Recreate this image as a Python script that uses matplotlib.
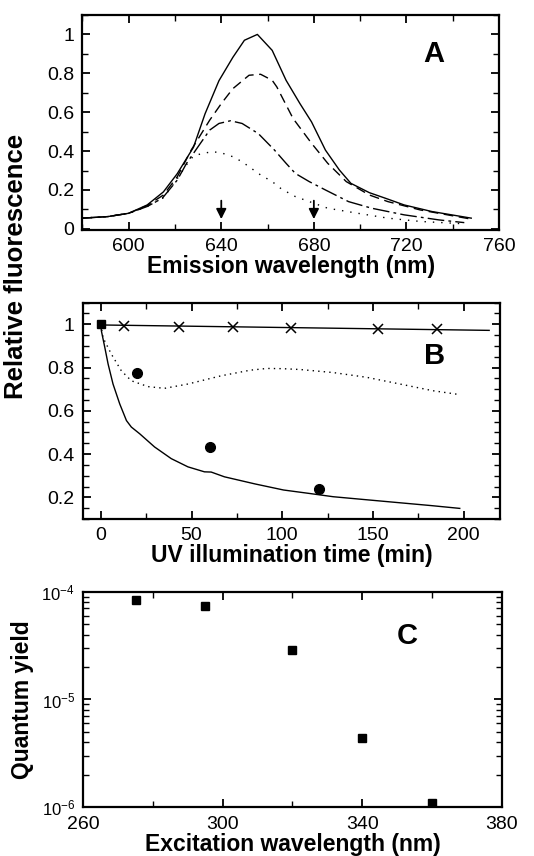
import matplotlib
matplotlib.use("Agg")
import matplotlib.pyplot as plt
from matplotlib.ticker import MultipleLocator, FuncFormatter, LogLocator

plt.rcParams['font.family'] = ['Liberation Sans', 'DejaVu Sans']
plt.rcParams['mathtext.fontset'] = 'custom'
plt.rcParams['mathtext.rm'] = 'Liberation Sans'

# ---- panel A: emission spectra ----
wl_solid = [580, 591, 600, 608, 615, 621, 628, 633, 639, 645, 650, 655.6, 662, 668, 674, 679,
            685, 691, 696, 704, 711, 719, 731, 748]
fl_solid = [0.055, 0.063, 0.080, 0.123, 0.19, 0.284, 0.42, 0.592, 0.762, 0.882, 0.97, 1.0, 0.918,
            0.764, 0.644, 0.55, 0.405, 0.303, 0.234, 0.186, 0.157, 0.123, 0.089, 0.055]

wl_dash = [580, 591, 600, 608, 615, 621, 627, 635, 640, 645, 652, 657, 662, 664, 671, 679, 686,
           694, 704, 712, 726, 748]
fl_dash = [0.055, 0.063, 0.080, 0.12, 0.174, 0.268, 0.405, 0.559, 0.644, 0.721, 0.79, 0.795,
           0.764, 0.73, 0.568, 0.44, 0.337, 0.243, 0.174, 0.14, 0.097, 0.05]

wl_dashdot = [580, 591, 600, 608, 614.5, 621, 625, 631, 635, 639, 644, 649, 656, 663, 668, 672,
              678, 685, 695, 705, 719, 734, 745]
fl_dashdot = [0.055, 0.063, 0.080, 0.115, 0.157, 0.251, 0.337, 0.44, 0.508, 0.542, 0.556, 0.542,
              0.49, 0.405, 0.337, 0.285, 0.243, 0.2, 0.14, 0.106, 0.072, 0.046, 0.032]

wl_dot = [580, 591, 600, 608, 615, 620, 625, 628, 631, 636, 640, 645, 649, 653, 657, 662, 666,
          672, 686, 699, 712, 726, 745]
fl_dot = [0.055, 0.063, 0.080, 0.115, 0.16, 0.24, 0.33, 0.375, 0.385, 0.397, 0.391, 0.371,
          0.345, 0.311, 0.277, 0.243, 0.205, 0.166, 0.106, 0.08, 0.055, 0.038, 0.026]

arrow_wl = [640, 680]

# ---- panel B: photobleaching ----
t_cross = [13, 43, 73, 105, 153, 185]
f_cross = [0.992, 0.986, 0.986, 0.985, 0.98, 0.977]
t_ref_line = [0, 214]
f_ref_line = [0.997, 0.972]

t_solid = [0, 0.3, 2.2, 4, 6.7, 10.4, 14.1, 16.8, 21.4, 29.6, 38.8, 48, 57.1, 60.8, 68.1,
           85, 100.7, 115, 128, 145, 164.8, 182, 197.8]
f_solid = [1.0, 0.969, 0.892, 0.816, 0.724, 0.632, 0.555, 0.525, 0.494, 0.433, 0.379, 0.341,
           0.318, 0.317, 0.295, 0.262, 0.234, 0.218, 0.203, 0.19, 0.175, 0.162, 0.149]

t_dot = [0, 1.2, 5.8, 11.3, 16.8, 26, 35.1, 48, 66.3, 82.4, 91.6, 100, 109.9, 128,
         146.5, 164.8, 183, 197.8]
f_dot = [1.0, 0.938, 0.862, 0.785, 0.739, 0.712, 0.704, 0.724, 0.762, 0.788, 0.796,
         0.795, 0.791, 0.777, 0.755, 0.724, 0.693, 0.675]

t_circ = [20, 60, 120]
f_circ = [0.775, 0.435, 0.24]
t_start = [0]
f_start = [1.0]

# ---- panel C: quantum yield ----
exc_wl = [275, 295, 320, 340, 360]
q_yield = [8.4e-5, 7.4e-5, 2.9e-5, 4.4e-6, 1.1e-6]


def style_axes(ax):
    for s in ['bottom', 'left', 'top', 'right']:
        ax.spines[s].set_linewidth(1.6)
    ax.tick_params(which='both', direction='in', top=True, right=True, labelsize=14)
    ax.tick_params(which='major', length=6, width=1.3, pad=6)
    ax.tick_params(which='minor', length=4, width=1.0)


fmt = FuncFormatter(lambda v, p: '%g' % round(v, 3))
lab_font = dict(fontsize=16.5, fontweight='bold')

fig = plt.figure(figsize=(5.34, 8.56), dpi=100)

# panel A
axA = fig.add_axes([0.1543, 0.7313, 0.7802, 0.2512])
style_axes(axA)
axA.plot(wl_solid, fl_solid, color='black', lw=1.0)
axA.plot(wl_dash, fl_dash, color='black', lw=1.0, dashes=(7, 4))
axA.plot(wl_dashdot, fl_dashdot, color='black', lw=1.0, dashes=(12, 3, 2, 3))
axA.plot(wl_dot, fl_dot, color='black', lw=1.0, dashes=(1, 5))
for w in arrow_wl:
    axA.annotate('', xy=(w, 0.05), xytext=(w, 0.145),
                 arrowprops=dict(arrowstyle='-|>', color='black', lw=1.3,
                                 mutation_scale=15, shrinkA=0, shrinkB=0))
axA.set_xlim(580, 760)
axA.set_ylim(-0.006, 1.1)
axA.xaxis.set_minor_locator(MultipleLocator(20))
axA.set_xticks([600, 640, 680, 720, 760])
axA.yaxis.set_major_locator(MultipleLocator(0.2))
axA.yaxis.set_minor_locator(MultipleLocator(0.1))
axA.yaxis.set_major_formatter(fmt)
axA.set_xlabel('Emission wavelength (nm)', labelpad=0, **lab_font)
axA.text(732, 0.9, 'A', fontsize=21, fontweight='bold', ha='center', va='center')

# panel B
axB = fig.add_axes([0.1549, 0.3937, 0.7815, 0.2527])
style_axes(axB)
axB.plot(t_ref_line, f_ref_line, color='black', lw=1.0)
axB.plot(t_cross, f_cross, ls='none', marker='x', color='black', ms=7, mew=1.1)
axB.plot(t_solid, f_solid, color='black', lw=1.0)
axB.plot(t_dot, f_dot, color='black', lw=1.0, dashes=(1, 3))
axB.plot(t_circ, f_circ, ls='none', marker='o', color='black', ms=7)
axB.plot(t_start, f_start, ls='none', marker='s', color='black', ms=6)
axB.set_xlim(-10, 220)
axB.set_ylim(0.1, 1.1)
axB.xaxis.set_major_locator(MultipleLocator(50))
axB.xaxis.set_minor_locator(MultipleLocator(25))
axB.yaxis.set_minor_locator(MultipleLocator(0.05))
axB.set_yticks([0.2, 0.4, 0.6, 0.8, 1.0])
axB.yaxis.set_major_formatter(fmt)
axB.set_xlabel('UV illumination time (min)', labelpad=0, **lab_font)
axB.text(184, 0.855, 'B', fontsize=21, fontweight='bold', ha='center', va='center')

# shared y label for A and B
fig.text(16 / 534, 1 - 266 / 856, 'Relative fluorescence', rotation=90,
         ha='center', va='center', fontsize=18.5, fontweight='bold')

# panel C
axC = fig.add_axes([0.156, 0.0569, 0.7835, 0.2519])
style_axes(axC)
axC.semilogy(exc_wl, q_yield, ls='none', marker='s', color='black', ms=5.5)
axC.set_xlim(260, 380)
axC.set_ylim(1e-6, 1e-4)
axC.set_xticks([260, 300, 340, 380])
axC.xaxis.set_minor_locator(MultipleLocator(20))
axC.yaxis.set_major_locator(LogLocator(base=10))
axC.yaxis.set_minor_locator(LogLocator(base=10, subs=range(2, 10)))
axC.yaxis.set_minor_formatter(FuncFormatter(lambda v, p: ''))
axC.tick_params(axis='y', labelsize=12)
axC.set_xlabel('Excitation wavelength (nm)', labelpad=0, **lab_font)
axC.set_ylabel('Quantum yield', **lab_font)
axC.yaxis.set_label_coords(-0.118, 0.5)
axC.text(353, 3.9e-5, 'C', fontsize=21, fontweight='bold', ha='center', va='center')

fig.savefig('out.png', dpi=100)
